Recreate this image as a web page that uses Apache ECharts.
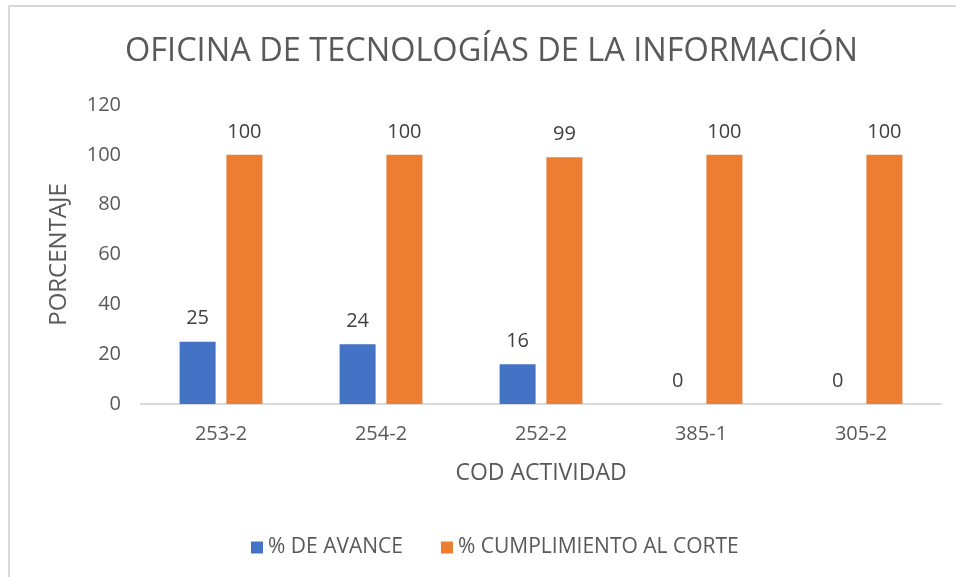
<!DOCTYPE html>
<html>
<head>
<meta charset="utf-8">
<script src="https://cdn.jsdelivr.net/npm/echarts@6/dist/echarts.min.js"></script>
<style>
  body { margin: 0; background: #fff; }
  #frame { position: absolute; left: 8px; top: 5px; width: 948px; height: 572px;
           border-top: 2px solid #d9d9d9; border-left: 2px solid #d9d9d9; box-sizing: border-box; }
  #chart { position: absolute; left: 0; top: 0; width: 956px; height: 577px; }
</style>
</head>
<body>
<div id="frame"></div>
<div id="chart"></div>
<script>
var categories = ["253-2", "254-2", "252-2", "385-1", "305-2"];
var avance = [25, 24, 16, 0, 0];
var cumplimiento = [100, 100, 99, 100, 100];

var font = "'Open Sans', sans-serif";
var myChart = echarts.init(document.getElementById("chart"));

var option = {
  textStyle: { fontFamily: font },
  title: {
    text: "OFICINA DE TECNOLOGÍAS DE LA INFORMACIÓN",
    left: 120,
    top: 30,
    textStyle: { fontSize: 32.5, fontWeight: "normal", color: "#595959", fontFamily: font }
  },
  legend: {
    bottom: 14,
    left: 246,
    itemWidth: 12,
    itemHeight: 12,
    itemGap: 38,
    icon: "rect",
    textStyle: { fontSize: 21, color: "#595959", fontFamily: font },
    data: ["% DE AVANCE", "% CUMPLIMIENTO AL CORTE"]
  },
  grid: { left: 141, right: 15, top: 105, bottom: 173 },
  xAxis: {
    type: "category",
    data: categories,
    name: "COD ACTIVIDAD",
    nameLocation: "middle",
    nameGap: 58,
    nameTextStyle: { fontSize: 23, color: "#595959" },
    axisLine: { lineStyle: { color: "#d9d9d9", width: 2 } },
    axisTick: { show: false },
    axisLabel: { fontSize: 20, color: "#595959", margin: 20 }
  },
  yAxis: {
    type: "value",
    min: 0,
    max: 120,
    interval: 20,
    name: "PORCENTAJE",
    nameLocation: "middle",
    nameGap: 70,
    nameTextStyle: { fontSize: 24, color: "#595959" },
    axisLine: { show: false },
    axisTick: { show: false },
    splitLine: { show: false },
    axisLabel: { fontSize: 20, color: "#595959", margin: 20 }
  },
  series: [
    {
      name: "% DE AVANCE",
      type: "bar",
      data: avance,
      barWidth: 36,
      barGap: "30%",
      itemStyle: { color: "#4472c4" },
      label: { show: true, position: "top", distance: 13, fontSize: 20, color: "#404040" }
    },
    {
      name: "% CUMPLIMIENTO AL CORTE",
      type: "bar",
      data: cumplimiento,
      barWidth: 36,
      itemStyle: { color: "#ed7d31" },
      label: { show: true, position: "top", distance: 13, fontSize: 20, color: "#404040" }
    }
  ]
};
myChart.setOption(option);
</script>
</body>
</html>
